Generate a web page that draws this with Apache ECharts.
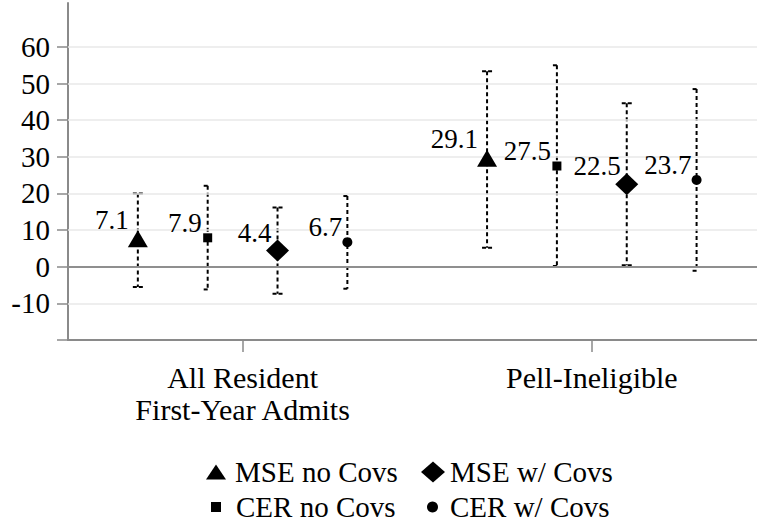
<!DOCTYPE html>
<html>
<head>
<meta charset="utf-8">
<title>RD estimates by sample</title>
<script src="https://cdn.jsdelivr.net/npm/echarts@6/dist/echarts.min.js"></script>
<style>
  html, body { margin: 0; padding: 0; background: #fff; }
  #chart { width: 757px; height: 523px; }
</style>
</head>
<body>
<div id="chart"></div>
<script>
// Samples on the horizontal axis
const groups = ['All Resident\nFirst-Year Admits', 'Pell-Ineligible'];

// Point estimates per estimator, one value per sample
const mseNoCovs = [7.1, 29.1];
const cerNoCovs = [7.9, 27.5];
const mseWCovs  = [4.4, 22.5];
const cerWCovs  = [6.7, 23.7];

// Confidence interval bounds per estimator
const mseNoCovsLow  = [-5.5, 5.2];
const mseNoCovsHigh = [20.0, 53.4];
const cerNoCovsLow  = [-6.2, 0.2];
const cerNoCovsHigh = [22.1, 55.0];
const mseWCovsLow   = [-7.4, 0.4];
const mseWCovsHigh  = [16.2, 44.6];
const cerWCovsLow   = [-6.0, -1.1];
const cerWCovsHigh  = [19.3, 48.5];

// Vertical axis ticks
const yTickLabels = [-10, 0, 10, 20, 30, 40, 50, 60];
const yTickMarks  = [-20, -10, 0, 10, 20, 30, 40, 50, 60];

const FONT = "'Liberation Serif', 'Times New Roman', serif";

// Drawing setup for each estimator (slot = position within a sample's cluster)
const estimators = [
  { name: 'MSE no Covs', est: mseNoCovs, lo: mseNoCovsLow, hi: mseNoCovsHigh,
    slot: -0.3, symbol: 'triangle', size: [20, 17], symOff: [0, -2], labOff: [-9, -19], cap: 'full',
    legend: { left: 206, top: 457, w: 20, h: 15, pad: 4 } },
  { name: 'CER no Covs', est: cerNoCovs, lo: cerNoCovsLow, hi: cerNoCovsHigh,
    slot: -0.1, symbol: 'rect', size: 9, symOff: [0, 0], labOff: [-6, -15], cap: 'half',
    legend: { left: 211, top: 492, w: 10, h: 10, pad: 10 } },
  { name: 'MSE w/ Covs', est: mseWCovs, lo: mseWCovsLow, hi: mseWCovsHigh,
    slot: 0.1, symbol: 'diamond', size: [23, 22], symOff: [0, 0], labOff: [-6, -18], cap: 'full',
    legend: { left: 421, top: 457, w: 24, h: 21, pad: 0 } },
  { name: 'CER w/ Covs', est: cerWCovs, lo: cerWCovsLow, hi: cerWCovsHigh,
    slot: 0.3, symbol: 'circle', size: 10, symOff: [0, 0], labOff: [-5, -15], cap: 'half',
    legend: { left: 427, top: 492, w: 11, h: 11, pad: 7 } }
];

// Dashed interval whiskers with short caps
function whiskerRenderer(capType) {
  return function (params, api) {
    const x = api.value(0);
    const top = api.coord([x, api.value(2)]);
    const bot = api.coord([x, api.value(1)]);
    const children = [{
      type: 'line',
      shape: { x1: top[0], y1: top[1], x2: bot[0], y2: bot[1] },
      style: { stroke: '#000', lineWidth: 2, lineDash: [4, 3] }
    }];
    [top, bot].forEach(function (p) {
      children.push(capType === 'full' ? {
        type: 'line',
        shape: { x1: p[0] - 5, y1: p[1], x2: p[0] + 5, y2: p[1] },
        style: { stroke: '#000', lineWidth: 2, lineDash: [4, 2] }
      } : {
        type: 'line',
        shape: { x1: p[0] - 4, y1: p[1], x2: p[0], y2: p[1] },
        style: { stroke: '#000', lineWidth: 2 }
      });
    });
    return { type: 'group', children: children };
  };
}

const series = [];

// Light horizontal gridlines and the darker zero reference line
series.push({
  type: 'line',
  data: [],
  silent: true,
  z: 1,
  markLine: {
    silent: true,
    symbol: 'none',
    label: { show: false },
    animation: false,
    lineStyle: { color: '#e8e8e8', width: 1.5, type: 'solid' },
    data: yTickLabels.filter(function (v) { return v !== 0; }).map(function (v) {
      return { yAxis: v };
    }).concat([{ yAxis: 0, lineStyle: { color: '#8f8f8f', width: 2, type: 'solid' } }])
  }
});

estimators.forEach(function (e) {
  series.push({
    type: 'custom',
    name: e.name + ' CI',
    renderItem: whiskerRenderer(e.cap),
    data: groups.map(function (g, i) { return [i + 1 + e.slot, e.lo[i], e.hi[i]]; }),
    encode: { x: 0, y: [1, 2] },
    silent: true,
    z: 3
  });
  series.push({
    type: 'scatter',
    name: e.name,
    symbol: e.symbol,
    symbolSize: e.size,
    symbolOffset: e.symOff,
    itemStyle: { color: '#000', opacity: 1 },
    data: groups.map(function (g, i) { return [i + 1 + e.slot, e.est[i]]; }),
    label: {
      show: true,
      position: 'inside',
      align: 'right',
      verticalAlign: 'middle',
      offset: e.labOff,
      color: '#000',
      fontFamily: FONT,
      fontSize: 27,
      formatter: function (p) { return p.value[1].toFixed(1); }
    },
    z: 5
  });
});

const legends = estimators.map(function (e) {
  return {
    data: [{ name: e.name, icon: e.symbol }],
    left: e.legend.left,
    top: e.legend.top,
    orient: 'vertical',
    padding: 0,
    itemWidth: e.legend.w,
    itemHeight: e.legend.h,
    selectedMode: false,
    itemStyle: { color: '#000' },
    textStyle: {
      color: '#000',
      fontFamily: FONT,
      fontSize: 29,
      lineHeight: 30,
      padding: [0, 0, 0, e.legend.pad]
    }
  };
});

const chart = echarts.init(document.getElementById('chart'), null, { renderer: 'svg' });
chart.setOption({
  animation: false,
  backgroundColor: '#fff',
  grid: { left: 68, top: 3, right: 0, bottom: 183, containLabel: false },
  xAxis: {
    type: 'value',
    min: 0.5,
    max: 2.473,
    splitLine: { show: false },
    axisLine: { show: true, onZero: false, lineStyle: { color: '#8a8a8a', width: 2 } },
    axisTick: { show: true, length: 12, customValues: [1, 2], lineStyle: { color: '#8a8a8a', width: 1.5 } },
    axisLabel: {
      customValues: [1, 2],
      formatter: function (v) { return groups[Math.round(v) - 1]; },
      color: '#000',
      fontFamily: FONT,
      fontSize: 30,
      lineHeight: 32,
      margin: 21
    }
  },
  yAxis: {
    type: 'value',
    min: -20,
    max: 72,
    splitLine: { show: false },
    axisLine: { show: true, onZero: false, lineStyle: { color: '#8a8a8a', width: 2 } },
    axisTick: { show: true, length: 11, customValues: yTickMarks, lineStyle: { color: '#8a8a8a', width: 1.5 } },
    axisLabel: {
      customValues: yTickLabels,
      color: '#000',
      fontFamily: FONT,
      fontSize: 29,
      margin: 18
    }
  },
  legend: legends,
  series: series
});
</script>
</body>
</html>
